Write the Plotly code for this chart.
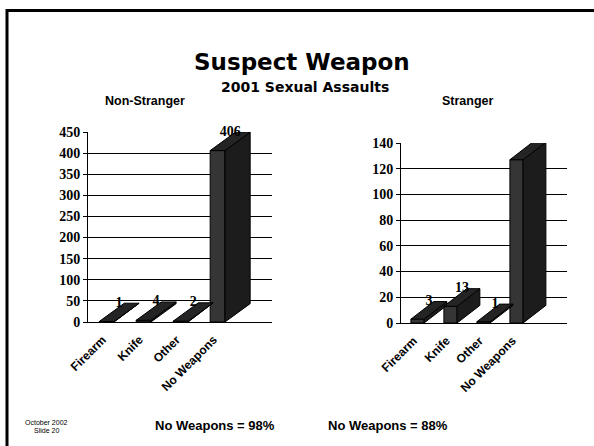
import plotly.graph_objects as go

categories = ["Firearm", "Knife", "Other", "No Weapons"]
non_stranger = [1, 4, 2, 406]
stranger = [3, 13, 1, 127]
left_ticks = [0, 50, 100, 150, 200, 250, 300, 350, 400, 450]
right_ticks = [0, 20, 40, 60, 80, 100, 120, 140]

W, H = 594, 446
FRONT = "#353535"
SIDE = "#1c1c1c"
TOP = "#242424"

fig = go.Figure()


def add_chart(values, xa, ya, width, dx, dy):
    xs = list(range(len(values)))
    fig.add_trace(go.Bar(x=xs, y=values, width=width, xaxis=xa, yaxis=ya,
                         marker=dict(color=FRONT, line=dict(color="black", width=1)),
                         showlegend=False, hoverinfo="skip"))
    sx, sy, tx, ty = [], [], [], []
    for c, v in zip(xs, values):
        l, r = c - width / 2, c + width / 2
        sx += [r, r + dx, r + dx, r, r, None]
        sy += [0, dy, v + dy, v, 0, None]
        tx += [l, r, r + dx, l + dx, l, None]
        ty += [v, v, v + dy, v + dy, v, None]
    fig.add_trace(go.Scatter(x=sx, y=sy, xaxis=xa, yaxis=ya, mode="lines", fill="toself",
                             fillcolor=SIDE, line=dict(color="black", width=1),
                             showlegend=False, hoverinfo="skip"))
    fig.add_trace(go.Scatter(x=tx, y=ty, xaxis=xa, yaxis=ya, mode="lines", fill="toself",
                             fillcolor=TOP, line=dict(color="black", width=1),
                             showlegend=False, hoverinfo="skip"))
    fig.add_trace(go.Scatter(x=[c + dx / 2 for c in xs], y=[v + dy for v in values],
                             xaxis=xa, yaxis=ya, mode="text",
                             text=[str(v) for v in values], textposition="middle center",
                             texttemplate="<b>%{text}</b>",
                             textfont=dict(family="Liberation Serif", size=14, color="black"),
                             cliponaxis=False, showlegend=False, hoverinfo="skip"))


add_chart(non_stranger, "x", "y", 0.4, 0.68, 43.5)
add_chart(stranger, "x2", "y2", 0.4, 0.69, 13.7)

xcommon = dict(tickmode="array", tickvals=[0, 1, 2, 3],
               ticktext=[f"<b>{c}</b>" for c in categories], tickangle=-45,
               showline=True, linecolor="black", linewidth=1, ticks="", showgrid=False,
               zeroline=False, fixedrange=True, automargin=False,
               ticklabelstandoff=5, ticklabelshift=-4,
               tickfont=dict(family="Liberation Sans", size=12, color="black"))
ycommon = dict(tickmode="array", showline=True, linecolor="black", linewidth=1,
               ticks="outside", ticklen=4, tickcolor="black", showgrid=True,
               gridcolor="black", gridwidth=1, zeroline=False, fixedrange=True,
               automargin=False,
               tickfont=dict(family="Liberation Serif", size=14, color="black"))

fig.update_layout(
    width=W, height=H, margin=dict(l=0, r=0, t=0, b=0, pad=0, autoexpand=False),
    paper_bgcolor="white", plot_bgcolor="white", bargap=0, showlegend=False,
    xaxis=dict(xcommon, domain=[88 / W, 272 / W], range=[-0.5, 4.47], anchor="y"),
    yaxis=dict(ycommon, domain=[1 - 322 / H, 1 - 132 / H], range=[0, 450],
               tickvals=left_ticks, ticktext=[f"<b>{t}</b>" for t in left_ticks], anchor="x"),
    xaxis2=dict(xcommon, domain=[401 / W, 567 / W], range=[-0.5, 4.53], anchor="y2"),
    yaxis2=dict(ycommon, domain=[1 - 323 / H, 1 - 143 / H], range=[0, 140],
                tickvals=right_ticks, ticktext=[f"<b>{t}</b>" for t in right_ticks], anchor="x2"),
)


def ann(text, x, y, size, family, bold=True):
    fig.add_annotation(text=f"<b>{text}</b>" if bold else text, x=x / W, y=1 - y / H,
                       xref="paper", yref="paper", showarrow=False,
                       xanchor="center", yanchor="middle",
                       font=dict(family=family, size=size, color="black"))


ann("Suspect Weapon", 302, 62, 23, "Comic Sans MS, DejaVu Sans")
ann("2001 Sexual Assaults", 305, 87, 14, "Comic Sans MS, DejaVu Sans")
ann("Non-Stranger", 145, 101, 12.5, "Liberation Sans")
ann("Stranger", 468, 101, 12.5, "Liberation Sans")
ann("No Weapons = 98%", 215, 425, 13, "Liberation Sans")
ann("No Weapons = 88%", 388, 425, 13, "Liberation Sans")
ann("October 2002", 46, 422, 7, "Liberation Sans", bold=False)
ann("Slide 20", 46, 430, 7, "Liberation Sans", bold=False)

fig.add_shape(type="rect", xref="paper", yref="paper",
              x0=7 / W, x1=1.05, y0=-0.05, y1=1 - 10.5 / H,
              line=dict(color="black", width=3), fillcolor="rgba(0,0,0,0)", layer="above")

fig.write_html("out.html", config={"displayModeBar": False, "staticPlot": True},
               post_script="document.body.style.margin='0px';document.body.style.overflow='hidden';")
